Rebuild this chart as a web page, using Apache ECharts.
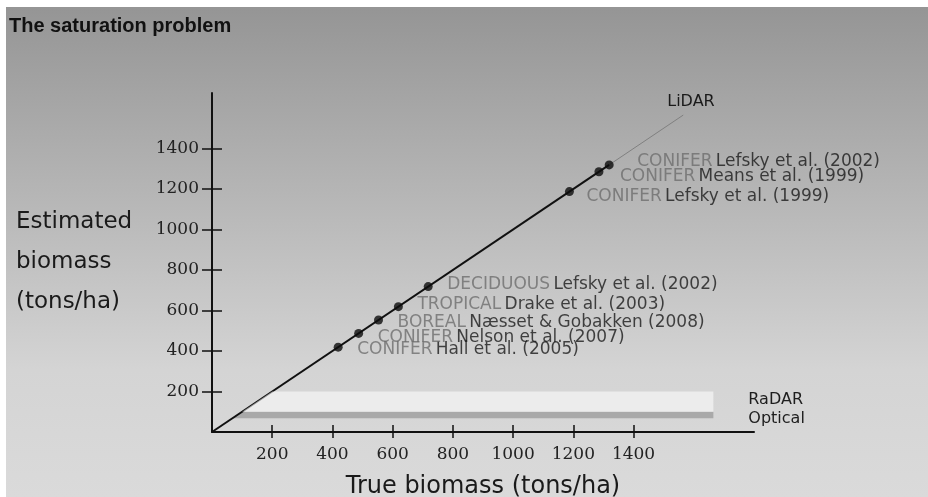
<!DOCTYPE html>
<html><head><meta charset="utf-8">
<script src="https://cdn.jsdelivr.net/npm/echarts@6/dist/echarts.min.js"></script>
<style>html,body{margin:0;padding:0;background:#fff}#c{width:928px;height:497px}</style>
</head><body><div id="c"></div>
<script>
const tickValues = [200, 400, 600, 800, 1000, 1200, 1400];
const biomassValues = [419, 487, 553, 619, 718, 1187, 1285, 1319];
const forestTypes = ['CONIFER', 'CONIFER', 'BOREAL', 'TROPICAL', 'DECIDUOUS', 'CONIFER', 'CONIFER', 'CONIFER'];
const studies = ['Hall et al. (2005)', 'Nelson et al. (2007)', 'Næsset & Gobakken (2008)', 'Drake et al. (2003)', 'Lefsky et al. (2002)', 'Lefsky et al. (1999)', 'Means et al. (1999)', 'Lefsky et al. (2002)'];
const lidarSolid = [[0, 0], [1319, 1319]];
const lidarFaint = [[1319, 1319], [1565, 1565]];
const bandNames = ['Optical', 'RaDAR'];
const bandLow = [68, 100];
const bandHigh = [100, 200];
const bandEnd = [1665, 1665];

const labelOffsets = [[14.5, 2], [14.5, 4], [14.5, 3], [14.5, -2], [14.5, -2], [12.5, 5], [16.5, 5], [23.5, -3]];
const bandFill = ['#a9a9a9', 'rgba(255,255,255,0.55)'];
const bandTextDy = [4, -2];

const chart = echarts.init(document.getElementById('c'), null, {renderer: 'canvas'});

function bandItem(idx) {
  return {
    type: 'custom',
    z: idx === 0 ? 1 : 4,
    silent: true,
    data: [[bandLow[idx], bandHigh[idx], bandEnd[idx]]],
    encode: {x: 2, y: 1},
    renderItem: function (params, api) {
      const lo = api.value(0), hi = api.value(1), end = api.value(2);
      const p1 = api.coord([hi, hi]);
      const p2 = api.coord([end, hi]);
      const p3 = api.coord([end, lo]);
      const p4 = api.coord([lo, lo]);
      return {
        type: 'group',
        children: [
          {type: 'polygon', shape: {points: [p1, p2, p3, p4]}, style: {fill: bandFill[idx]}},
          {type: 'text', x: p2[0] + 35, y: (p2[1] + p3[1]) / 2 + bandTextDy[idx],
           style: {text: bandNames[idx], fill: '#1e1e1e', font: '16px "DejaVu Sans"', verticalAlign: 'middle', align: 'left'}}
        ]
      };
    }
  };
}

const pointData = biomassValues.map((v, i) => ({
  value: [v, v],
  label: {
    show: true, position: 'right', distance: 0,
    offset: labelOffsets[i],
    formatter: '{t|' + forestTypes[i] + '} {s|' + studies[i] + '}'
  }
}));

const axisFont = {fontFamily: 'DejaVu Serif', fontSize: 17, color: '#222', formatter: v => String(v)};

chart.setOption({
  backgroundColor: '#ffffff',
  animation: false,
  title: {
    text: 'The saturation problem', left: 4, top: 10,
    textStyle: {fontFamily: 'Liberation Sans', fontWeight: 'bold', fontSize: 20, color: '#111', lineHeight: 22}
  },
  graphic: [{
    type: 'rect', z: -100, silent: true,
    shape: {x: 6, y: 7, width: 922, height: 490},
    style: {fill: new echarts.graphic.LinearGradient(0, 0, 0, 1, [
      {offset: 0, color: '#959595'},
      {offset: 0.74, color: '#d4d4d4'},
      {offset: 1, color: '#dadada'}
    ])}
  }],
  grid: {left: 212, right: 174, top: 93, bottom: 65, outerBoundsMode: 'none', containLabel: false},
  xAxis: [{
    type: 'value', min: 0, max: 1800, position: 'bottom',
    name: 'True biomass (tons/ha)', nameLocation: 'middle', nameGap: 55,
    nameTextStyle: {fontFamily: 'DejaVu Sans', fontSize: 24, color: '#1a1a1a', verticalAlign: 'middle'},
    axisLine: {show: true, lineStyle: {color: '#111', width: 2}},
    axisTick: {show: true, length: 6, customValues: tickValues, lineStyle: {color: '#111', width: 1.5}},
    axisLabel: {show: true, margin: 14, customValues: tickValues, ...axisFont},
    splitLine: {show: false}
  }, {
    type: 'value', min: 0, max: 1800, position: 'bottom',
    axisLine: {show: false},
    axisTick: {show: true, inside: true, length: 7, customValues: tickValues, lineStyle: {color: '#111', width: 1.5}},
    axisLabel: {show: false},
    splitLine: {show: false}
  }],
  yAxis: [{
    type: 'value', min: 0, max: 1674, position: 'left',
    name: 'Estimated\nbiomass\n(tons/ha)', nameLocation: 'middle', nameGap: 196, nameRotate: 0,
    nameTextStyle: {fontFamily: 'DejaVu Sans', fontSize: 23, color: '#1a1a1a', align: 'left', lineHeight: 40, padding: [0, 0, 8, 0]},
    axisLine: {show: true, lineStyle: {color: '#111', width: 2}},
    axisTick: {show: true, length: 10, customValues: tickValues, lineStyle: {color: '#111', width: 1.5}},
    axisLabel: {show: true, margin: 13, customValues: tickValues, ...axisFont},
    splitLine: {show: false}
  }, {
    type: 'value', min: 0, max: 1674, position: 'left',
    axisLine: {show: false},
    axisTick: {show: true, inside: true, length: 10, customValues: tickValues, lineStyle: {color: '#111', width: 1.5}},
    axisLabel: {show: false},
    splitLine: {show: false}
  }],
  series: [
    bandItem(0),
    {
      type: 'line', z: 2, data: lidarSolid, symbol: 'none', silent: true,
      lineStyle: {color: '#111', width: 2}
    },
    {
      type: 'line', z: 2, symbol: 'none', silent: true,
      lineStyle: {color: '#808080', width: 1},
      data: lidarFaint,
      endLabel: {show: true, formatter: 'LiDAR', distance: 0, offset: [-16, -13],
                 fontFamily: 'DejaVu Sans', fontSize: 16, color: '#1a1a1a'}
    },
    bandItem(1),
    {
      type: 'scatter', z: 6, symbol: 'circle', symbolSize: 9,
      itemStyle: {color: '#0d0d0d'},
      data: pointData,
      label: {
        rich: {
          t: {fontFamily: 'DejaVu Sans', fontSize: 17, color: '#6e6e6e'},
          s: {fontFamily: 'DejaVu Sans', fontSize: 17, color: '#1a1a1a'}
        }
      }
    }
  ]
});
</script></body></html>
